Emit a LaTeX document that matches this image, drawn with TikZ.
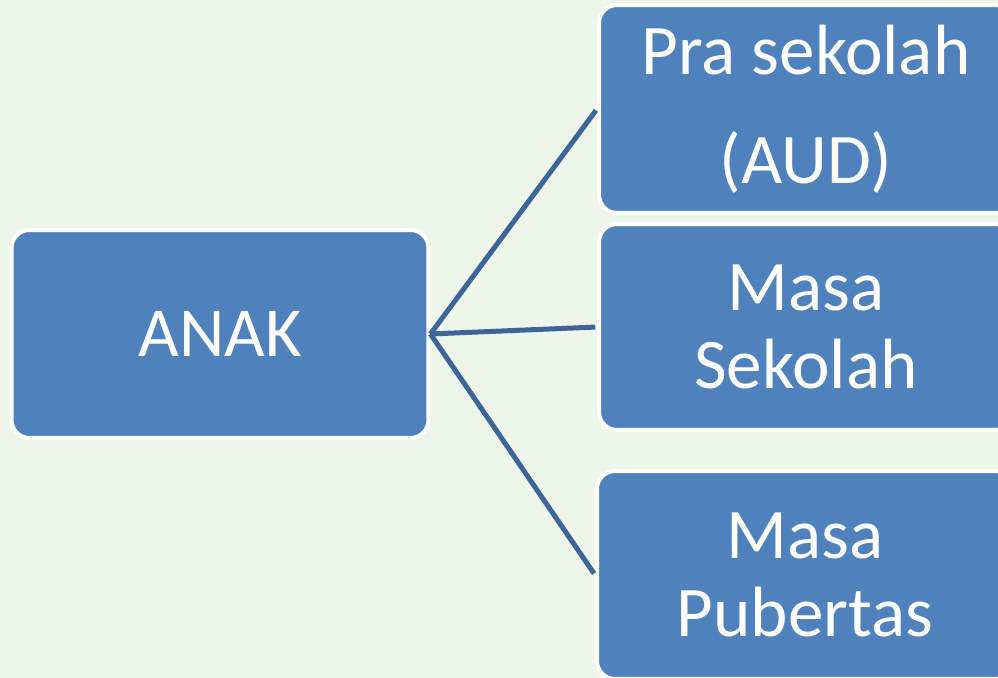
\documentclass[tikz,border=0pt]{standalone}
\usepackage{fontspec}
\setmainfont{Carlito}
\definecolor{bgreen}{HTML}{EEF5EB}
\definecolor{boxblue}{HTML}{4F81BD}
\definecolor{lineblue}{HTML}{3D6598}
\tikzset{
  box/.style={rectangle,rounded corners=0.36cm,fill=boxblue,draw=white,
    line width=0.08cm,text=white,align=center,inner sep=0pt,
    minimum height=4.16cm},
  link/.style={draw=lineblue,line width=0.1cm,shorten >=1pt}
}
\begin{document}
\begin{tikzpicture}[x=0.02cm,y=-0.02cm]
        \clip (0,0) rectangle (998,678) ;
        \fill[bgreen] (0,0) rectangle (998,678) ;
        % left box
        \node[box,minimum width=8.34cm,font=\fontsize{40}{46}\selectfont]
        (anak) at (220,334) {ANAK} ;
        % right boxes, clipped at the page edge
        \node[box,minimum width=8.28cm,font=\fontsize{40.5}{44.3}\selectfont]
        (pra) at (806,109) {Pra sekolah\\[18pt](AUD)} ;
        \node[box,minimum width=8.28cm,minimum height=4.12cm,
        font=\fontsize{40.5}{44.3}\selectfont]
        (sekolah) at (806,327) {Masa\\Sekolah} ;
        \node[box,minimum width=8.32cm,font=\fontsize{40.5}{44.3}\selectfont]
        (puber) at (805,575) {Masa\\Pubertas} ;
        \draw[link] (anak.east) -- (pra.west) ;
        \draw[link] (anak.east) -- (sekolah.west) ;
        \draw[link] (anak.east) -- (puber.west) ;
      \end{tikzpicture}
\end{document}
